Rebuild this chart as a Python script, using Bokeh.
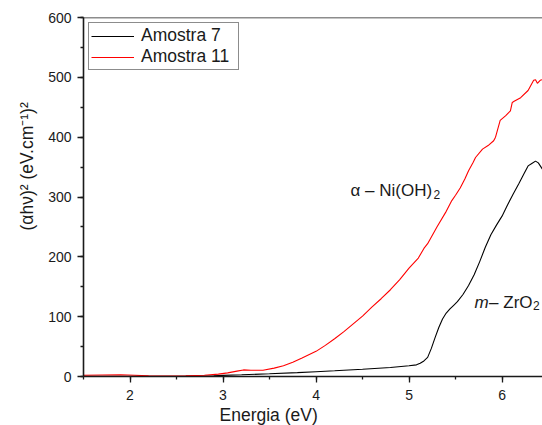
from bokeh.plotting import figure
from bokeh.models import Label, Span, Range1d, Legend, LegendItem, SingleIntervalTicker, Title
from bokeh.embed import file_html
from bokeh.resources import INLINE

# ---- data ----
x_am7 = [1.5, 1.8, 2.0, 2.3, 2.6, 2.9, 3.0, 3.2, 3.5, 3.8, 4.0, 4.2, 4.5, 4.8, 5.0,
         5.08, 5.12, 5.16, 5.2, 5.24, 5.28, 5.32, 5.36, 5.4, 5.44, 5.48, 5.52, 5.58,
         5.64, 5.7, 5.76, 5.82, 5.88, 5.94, 6.0, 6.06, 6.12, 6.18, 6.24, 6.28, 6.32,
         6.36, 6.39, 6.42, 6.45]
y_am7 = [0.5, 0.5, 0.5, 0.5, 0.7, 1.2, 1.8, 2.8, 4.5, 6.5, 8, 9.5, 12, 15, 18,
         19.5, 22, 26, 32, 47, 65, 82, 96, 106, 113, 119, 125, 137,
         152, 170, 192, 216, 237, 253, 268, 287, 305, 322, 340, 352, 356,
         360, 357, 350, 343]

x_am11 = [1.5, 1.7, 1.9, 2.05, 2.2, 2.4, 2.6, 2.8, 2.95, 3.05, 3.15, 3.22, 3.3, 3.43,
          3.55, 3.65, 3.75, 3.85, 4.0, 4.1, 4.2, 4.3, 4.4, 4.5, 4.6, 4.7, 4.8, 4.9,
          5.0, 5.1, 5.16, 5.2, 5.3, 5.4, 5.46, 5.5, 5.55, 5.6, 5.64, 5.69, 5.715,
          5.79, 5.85, 5.91, 5.93, 5.98, 6.04, 6.09, 6.11, 6.13, 6.2, 6.28, 6.34,
          6.36, 6.38, 6.41, 6.45]
y_am11 = [2, 2.5, 3, 2, 1, 0.8, 1, 2, 4, 6, 9, 11, 10.5, 10.5,
          14, 18, 24, 31, 42, 52, 63, 75, 88, 101, 116, 130, 145, 162,
          181, 198, 214, 222, 250, 276, 294, 303, 315, 330, 344, 358, 366,
          380, 386, 394, 400, 428, 436, 444, 458, 460, 466, 478, 495,
          496, 490, 495, 497]

series_names = ["Amostra 7", "Amostra 11"]
series_colors = ["#000000", "#ff0000"]

FONT = "Liberation Sans"
INK = "#1a1a1a"

p = figure(width=542, height=425, output_backend="svg", toolbar_location=None,
           x_range=Range1d(1.5, 6.435), y_range=Range1d(0, 600),
           min_border_left=83, min_border_right=0, min_border_top=17,
           min_border_bottom=49)
p.outline_line_color = None
p.grid.visible = False
p.background_fill_color = "white"

r7 = p.line(x_am7, y_am7, line_color=series_colors[0], line_width=1.1)
r11 = p.line(x_am11, y_am11, line_color=series_colors[1], line_width=1.1)

for ax in (p.xaxis[0], p.yaxis[0]):
    ax.axis_line_color = INK
    ax.axis_line_width = 1.6
    ax.major_tick_line_color = INK
    ax.minor_tick_line_color = INK
    ax.major_tick_line_width = 1.3
    ax.minor_tick_line_width = 1.3
    ax.major_tick_in = 0
    ax.major_tick_out = 6
    ax.minor_tick_in = 0
    ax.minor_tick_out = 3
    ax.major_label_text_font = FONT
    ax.major_label_text_font_size = "14px"
    ax.major_label_text_color = INK

p.xaxis[0].ticker = SingleIntervalTicker(interval=1, num_minor_ticks=2)
p.yaxis[0].ticker = SingleIntervalTicker(interval=100, num_minor_ticks=2)
p.xaxis[0].major_label_standoff = 7
p.yaxis[0].major_label_standoff = 6

# top frame line
p.add_layout(Span(location=600, dimension="width", line_color=INK, line_width=1.6))

legend = Legend(items=[LegendItem(label=series_names[0], renderers=[r7]),
                       LegendItem(label=series_names[1], renderers=[r11])],
                location="top_left")
legend.margin = 5
legend.padding = 2
legend.spacing = 0
legend.label_height = 21
legend.label_width = 95
legend.glyph_width = 43
legend.label_standoff = 7
legend.label_text_font = FONT
legend.label_text_font_size = "17.5px"
legend.label_text_color = INK
legend.border_line_color = INK
legend.border_line_width = 1.2
legend.background_fill_alpha = 1
p.add_layout(legend)

# axis titles
xt = Title(text="Energia (eV)", align="left", offset=136, standoff=1,
           text_font=FONT, text_font_size="17.5px", text_font_style="normal",
           text_color=INK)
p.add_layout(xt, "below")
yt = Title(text="(\u03b1h\u03bd)\u00b2 (eV.cm\u207b\u00b9)\u00b2", align="left", offset=146,
           standoff=18, text_font=FONT, text_font_size="17.5px",
           text_font_style="normal", text_color=INK)
p.add_layout(yt, "left")

# in-plot annotations
p.add_layout(Label(x=4.371, y=310.8, text="\u03b1 \u2013 Ni(OH)", text_font=FONT,
                   text_font_size="17px", text_baseline="alphabetic", text_color=INK))
p.add_layout(Label(x=5.262, y=305, text="2", text_font=FONT,
                   text_font_size="12px", text_baseline="alphabetic", text_color=INK))
p.add_layout(Label(x=5.704, y=124, text="m", text_font=FONT, text_font_style="italic",
                   text_font_size="17px", text_baseline="alphabetic", text_color=INK))
p.add_layout(Label(x=5.861, y=124, text="\u2013 ZrO", text_font=FONT,
                   text_font_size="17px", text_baseline="alphabetic", text_color=INK))
p.add_layout(Label(x=6.333, y=118, text="2", text_font=FONT,
                   text_font_size="12px", text_baseline="alphabetic", text_color=INK))

open("out.html", "w").write(file_html(p, INLINE))
